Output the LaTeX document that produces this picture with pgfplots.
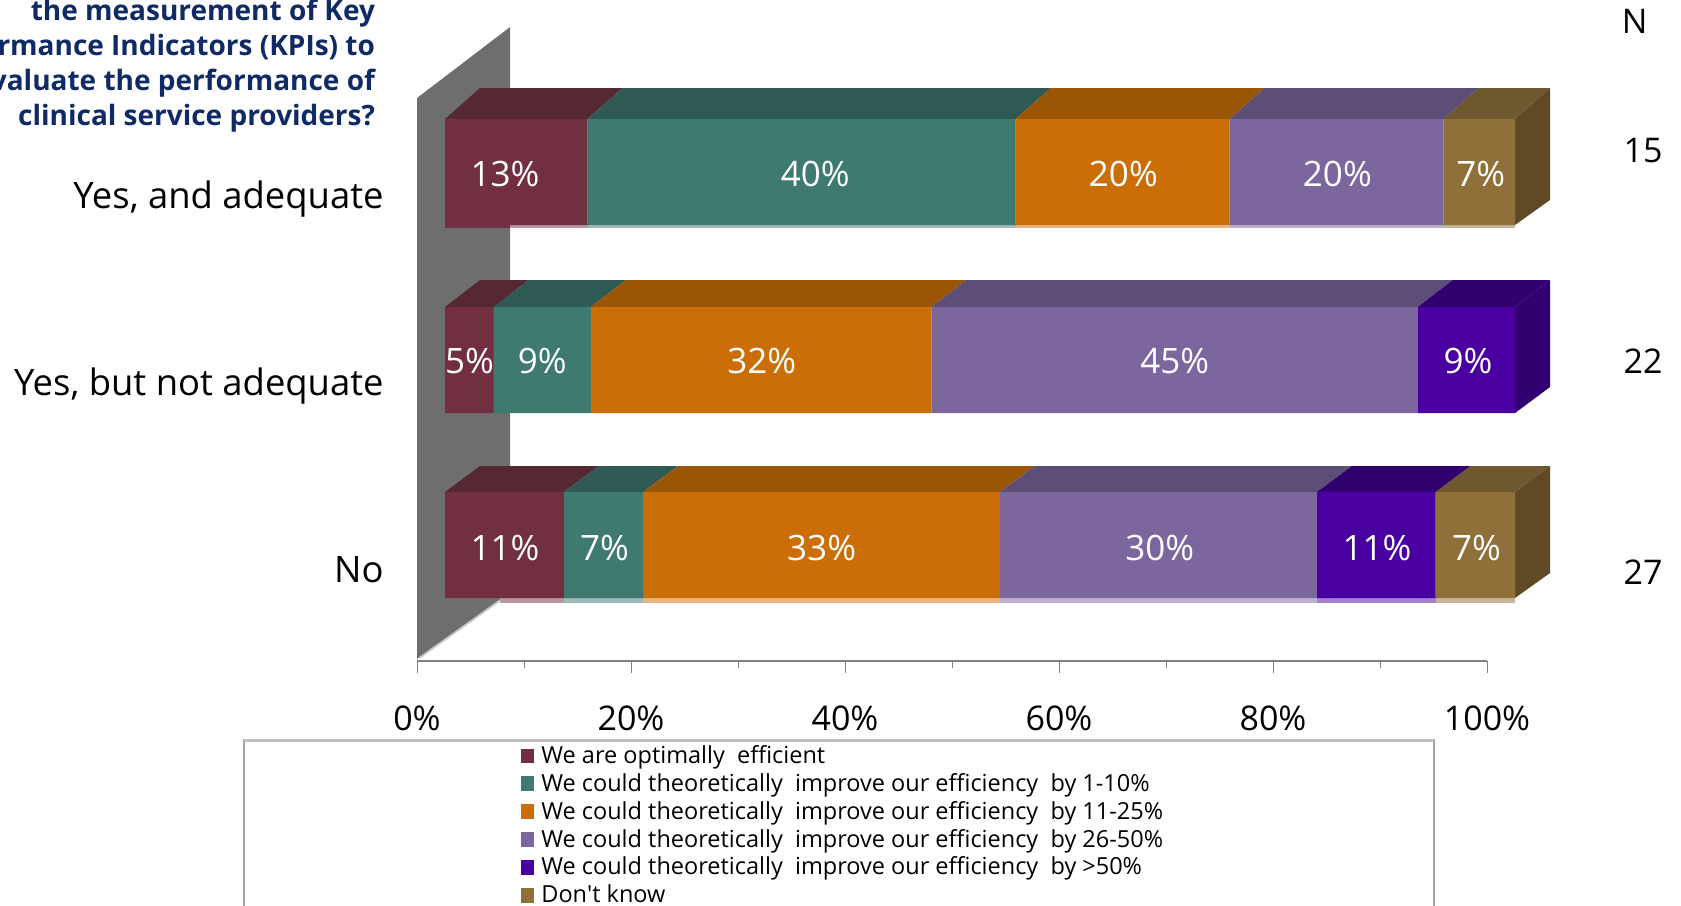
\documentclass[border=0pt]{standalone}
\usepackage{fontspec}
\setmainfont{Open Sans}
\usepackage{pgfplots}
\pgfplotsset{compat=1.18}
\usepackage{pgfplotstable}

\definecolor{wine}{HTML}{722F42}
\definecolor{teal2}{HTML}{3E7A70}
\definecolor{orange2}{HTML}{CC6E08}
\definecolor{lav}{HTML}{7B679D}
\definecolor{violet2}{HTML}{4A00A0}
\definecolor{tan2}{HTML}{8E7038}
\definecolor{winetop}{HTML}{562834}
\definecolor{tealtop}{HTML}{2F5A54}
\definecolor{orangetop}{HTML}{9A5505}
\definecolor{lavtop}{HTML}{5D4E78}
\definecolor{violettop}{HTML}{310070}
\definecolor{tantop}{HTML}{6E5830}
\definecolor{tanside}{HTML}{604A26}
\definecolor{navy2}{HTML}{0F2A64}

% shares in percent of N = 15, 22, 27
\pgfplotstableread{
y   a     b     c     d     e    f
172 13.33 40.00 20.00 20.00 0    6.67
360 4.55  9.09  31.82 45.45 9.09 0
545 11.11 7.41  33.33 29.63 11.11 7.41
}\shares

% label position in percent of the bar, y in pixels
\pgfplotstableread{
x    y   t
5.6  174 13\%
34.6 174 40\%
63.4 174 20\%
83.4 174 20\%
96.8 174 7\%
2.3  361 5\%
9.1  361 9\%
29.6 361 32\%
68.2 361 45\%
95.6 361 9\%
5.6  548 11\%
14.9 548 7\%
35.2 548 33\%
66.8 548 30\%
87.1 548 11\%
96.4 548 7\%
}\labels

\pgfplotsset{
  frame/.style={
    scale only axis, width=535pt, height=330.5pt,
    xmin=0, xmax=100, ymin=0, ymax=661, y dir=reverse,
    clip=false, anchor=south west,
  },
  face/.style={draw=none, fill=#1},
}

\begin{document}
\begin{tikzpicture}
\useasboundingbox (0,0) rectangle (840.5pt,-452.5pt);
\clip (0,0) rectangle (840.5pt,-452.5pt);

% wall and percent axis
\begin{axis}[frame, at={(208.5pt,-330.5pt)},
    axis y line=none, axis x line=bottom,
    axis line style={draw=black!50, line width=1pt, -},
    xtick={0,20,...,100}, minor xtick={10,30,...,90},
    xticklabel={\pgfmathprintnumber{\tick}\%},
    /pgf/number format/assume math mode=true,
    tick align=outside, major tick length=6pt, minor tick length=3.5pt,
    tick style={draw=black!50, line width=0.5pt},
    xticklabel style={font=\fontsize{17}{20}\selectfont, yshift=-12.75pt},
]
\addplot[face=black!57] coordinates {(0,659) (0,98) (8.7,27) (8.7,590) (7.8,600)} -- cycle;
\addplot[black!22, line width=0.9pt] coordinates {(0.2,658) (7.8,600)};
\end{axis}

% top, side and pale bottom faces
\begin{axis}[frame, at={(222.5pt,-330.5pt)}, hide axis]
\addplot[face=winetop] coordinates {(0,119) (13.33,119) (16.6,88) (3.27,88)} -- cycle;
\addplot[face=tealtop] coordinates {(13.33,119) (53.33,119) (56.6,88) (16.6,88)} -- cycle;
\addplot[face=orangetop] coordinates {(53.33,119) (73.33,119) (76.6,88) (56.6,88)} -- cycle;
\addplot[face=lavtop] coordinates {(73.33,119) (93.33,119) (96.6,88) (76.6,88)} -- cycle;
\addplot[face=tantop] coordinates {(93.33,119) (100,119) (103.27,88) (96.6,88)} -- cycle;
\addplot[face=tanside] coordinates {(100,119) (103.27,88) (103.27,200) (100,225)} -- cycle;
\addplot[face=wine] coordinates {(0,224) (6.07,224) (6.07,228) (0,228)} -- cycle;
\addplot[face=wine!50!white] coordinates {(6.07,224) (13.33,224) (13.33,228) (6.07,228)} -- cycle;
\addplot[face=teal2!50!white] coordinates {(13.33,224) (53.33,224) (53.33,228) (13.33,228)} -- cycle;
\addplot[face=orange2!50!white] coordinates {(53.33,224) (73.33,224) (73.33,228) (53.33,228)} -- cycle;
\addplot[face=lav!50!white] coordinates {(73.33,224) (93.33,224) (93.33,228) (73.33,228)} -- cycle;
\addplot[face=tan2!50!white] coordinates {(93.33,224) (100,224) (100,228) (93.33,228)} -- cycle;

\addplot[face=winetop] coordinates {(0,307) (4.55,307) (7.82,280) (3.27,280)} -- cycle;
\addplot[face=tealtop] coordinates {(4.55,307) (13.64,307) (16.91,280) (7.82,280)} -- cycle;
\addplot[face=orangetop] coordinates {(13.64,307) (45.45,307) (48.72,280) (16.91,280)} -- cycle;
\addplot[face=lavtop] coordinates {(45.45,307) (90.91,307) (94.18,280) (48.72,280)} -- cycle;
\addplot[face=violettop] coordinates {(90.91,307) (100,307) (103.27,280) (94.18,280)} -- cycle;
\addplot[face=violettop] coordinates {(100,307) (103.27,280) (103.27,387) (100,413)} -- cycle;

\addplot[face=winetop] coordinates {(0,492) (11.11,492) (14.38,466) (3.27,466)} -- cycle;
\addplot[face=tealtop] coordinates {(11.11,492) (18.52,492) (21.79,466) (14.38,466)} -- cycle;
\addplot[face=orangetop] coordinates {(18.52,492) (51.85,492) (55.12,466) (21.79,466)} -- cycle;
\addplot[face=lavtop] coordinates {(51.85,492) (81.48,492) (84.75,466) (55.12,466)} -- cycle;
\addplot[face=violettop] coordinates {(81.48,492) (92.59,492) (95.86,466) (84.75,466)} -- cycle;
\addplot[face=tantop] coordinates {(92.59,492) (100,492) (103.27,466) (95.86,466)} -- cycle;
\addplot[face=tanside] coordinates {(100,492) (103.27,466) (103.27,573) (100,598)} -- cycle;
\addplot[face=wine!50!white] coordinates {(5.14,597) (11.11,597) (11.11,603) (5.14,603)} -- cycle;
\addplot[face=teal2!50!white] coordinates {(11.11,597) (18.52,597) (18.52,603) (11.11,603)} -- cycle;
\addplot[face=orange2!50!white] coordinates {(18.52,597) (51.85,597) (51.85,603) (18.52,603)} -- cycle;
\addplot[face=lav!50!white] coordinates {(51.85,597) (81.48,597) (81.48,603) (51.85,603)} -- cycle;
\addplot[face=violet2!50!white] coordinates {(81.48,597) (92.59,597) (92.59,603) (81.48,603)} -- cycle;
\addplot[face=tan2!50!white] coordinates {(92.59,597) (100,597) (100,603) (92.59,603)} -- cycle;
\end{axis}

% front of the bars
\begin{axis}[frame, at={(222.5pt,-330.5pt)}, hide axis,
    xbar stacked, bar width=53pt, bar shift=0pt,
    legend cell align=left,
    legend style={at={(axis cs:7.1,741)}, anchor=north west, draw=none, fill=none,
        font=\fontsize{11.75}{14}\selectfont, row sep=-0.55pt, inner sep=0pt,
        /tikz/column 1/.style={column sep=1.5pt}},
    legend image code/.code={\fill[#1] (0pt,-3.7pt) rectangle (6.5pt,3.7pt);},
]
\addplot[fill=wine, draw=none] table[x=a, y=y] {\shares};
\addplot[fill=teal2, draw=none] table[x=b, y=y] {\shares};
\addplot[fill=orange2, draw=none] table[x=c, y=y] {\shares};
\addplot[fill=lav, draw=none] table[x=d, y=y] {\shares};
\addplot[fill=violet2, draw=none] table[x=e, y=y] {\shares};
\addplot[fill=tan2, draw=none] table[x=f, y=y] {\shares};
\legend{We are optimally\ \ efficient,
    We could theoretically\ \ improve our efficiency\ \ by 1-10\%,
    We could theoretically\ \ improve our efficiency\ \ by 11-25\%,
    We could theoretically\ \ improve our efficiency\ \ by 26-50\%,
    We could theoretically\ \ improve our efficiency\ \ by >50\%,
    Don\textquotesingle t know}
\end{axis}

% value labels, category names and N
\begin{axis}[frame, at={(222.5pt,-330.5pt)}, hide axis]
\addplot[only marks, mark=none, point meta=explicit symbolic,
    nodes near coords, nodes near coords align={center},
    every node near coord/.style={text=white, font=\fontsize{17.5}{20}\selectfont, anchor=center}]
    table[x=x, y=y, meta=t] {\labels};
\end{axis}

\node[anchor=east, align=right, inner sep=0pt, text=navy2, font=\fontsize{14}{17.5}\selectfont\bfseries]
    at (187.7pt,-32.6pt) {the measurement of Key\\Performance Indicators (KPIs) to\\evaluate the performance of\\clinical service providers?};
\begin{scope}[every node/.style={anchor=east, inner sep=0pt, font=\fontsize{18.2}{20}\selectfont}]
\node at (192pt,-99.6pt) {Yes, and adequate};
\node at (192pt,-193.1pt) {Yes, but not adequate};
\node at (192pt,-285pt) {No};
\end{scope}
\begin{scope}[every node/.style={anchor=east, inner sep=0pt, font=\fontsize{17}{20}\selectfont}]
\node at (824pt,-10.5pt) {N};
\node at (831.5pt,-75.5pt) {15};
\node at (831.5pt,-180.5pt) {22};
\node at (831.5pt,-286pt) {27};
\end{scope}
\draw[black!35, line width=0.8pt] (122pt,-370pt) rectangle (717pt,-470pt);
\draw[black!25, line width=1.5pt] (122pt,-370pt) -- (717pt,-370pt);
\end{tikzpicture}
\end{document}
